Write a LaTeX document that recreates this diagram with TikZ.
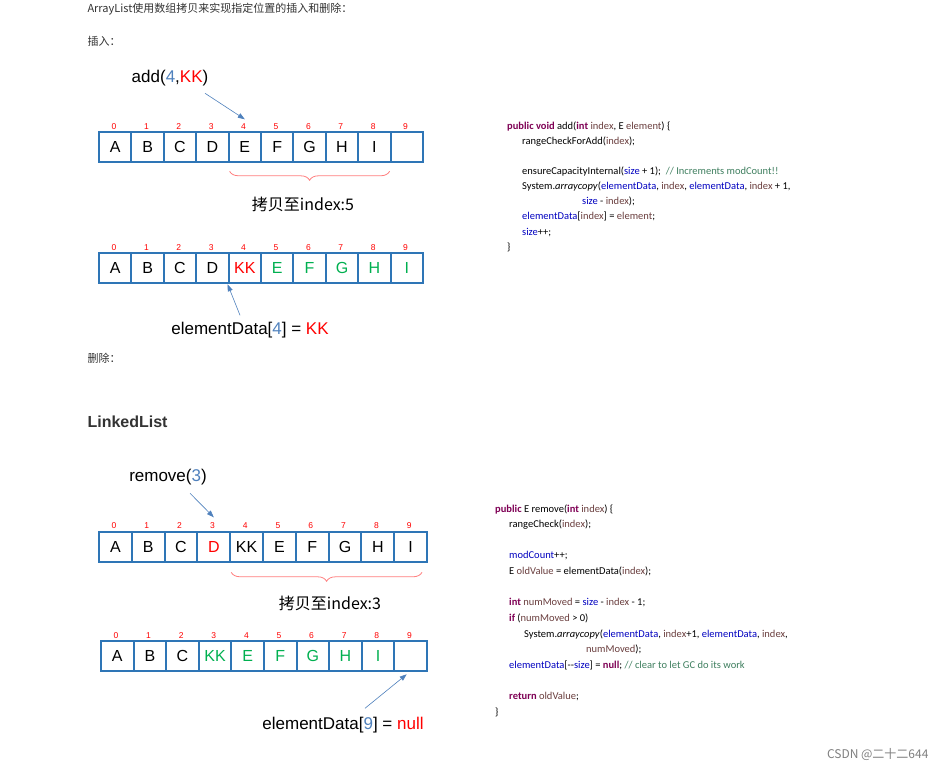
\documentclass[tikz,border=0pt]{standalone}
\usepackage{fontspec}
\setmainfont{Liberation Sans}
\newfontfamily\cjk{Noto Sans CJK SC}
\newfontfamily\codef{Carlito}
\usetikzlibrary{decorations.pathreplacing,arrows.meta,calc}
\definecolor{cellblue}{HTML}{2E75B6}
\definecolor{idxred}{HTML}{FF0000}
\definecolor{grn}{HTML}{00B050}
\definecolor{numblue}{HTML}{4F81BD}
\definecolor{kw}{HTML}{7F0055}
\definecolor{fld}{HTML}{0000C0}
\definecolor{cmt}{HTML}{3F7F5F}
\definecolor{var}{HTML}{6A3E3E}
\definecolor{txt}{HTML}{333333}
\definecolor{bracec}{HTML}{FF7F7F}
\newcommand{\K}[1]{\textcolor{kw}{\textbf{#1}}}
\newcommand{\F}[1]{\textcolor{fld}{#1}}
\newcommand{\V}[1]{\textcolor{var}{#1}}
\newcommand{\C}[1]{\textcolor{cmt}{#1}}
\begin{document}
\begin{tikzpicture}[x=1pt,y=-1pt,
  cell/.style={draw=cellblue,line width=2pt,minimum width=32.4pt,minimum height=30pt,inner sep=0pt,font=\fontsize{16}{16}\selectfont,anchor=west},
  idx/.style={text=idxred,font=\fontsize{8.5}{9}\selectfont},
  lbl/.style={font=\fontsize{17}{18}\selectfont,text=black},
  arr/.style={draw=numblue,line width=0.6pt,-{Triangle[length=7pt,width=5pt]}},
  brc/.style={draw=bracec,line width=0.8pt,decorate,decoration={brace,mirror,amplitude=9pt}},
  para/.style={font=\cjk\fontsize{11}{12}\selectfont,text=txt,anchor=west},
  code/.style={font=\codef\fontsize{10.5}{11}\selectfont,text=black,anchor=west,inner sep=0pt}]
\fill[white] (0,0) rectangle (947,773);

\node[para] (t1) at (84,8) {ArrayList使用数组拷贝来实现指定位置的插入和删除：};
\node[para] (t2) at (84,40) {插入：};
\node[para] (t3) at (84,357) {删除：};
\node[font=\bfseries\fontsize{16}{17}\selectfont,text=txt,anchor=west] (t4) at (84,420) {LinkedList};

% array 1
\foreach \l [count=\i from 0] in {A,B,C,D,E,F,G,H,I,{}} {
  \node[cell] (a\i) at (98+\i*32.4,146) {\l};
  \node[idx] at (114+\i*32.4,125) {\i};
}
\node[lbl] (add) at (170,77) {add(\textcolor{numblue}{4},\textcolor{idxred}{KK})};
\draw[arr] (205,92) -- ($(a4.north)+(0,-12)$);
\draw[brc] ($(a4.south west)+(2,8)$) -- ($(a8.south east)+(-2,8)$);
\node[lbl,font=\cjk\fontsize{16}{17}\selectfont] (c1) at (303,203) {拷贝至index:5};

% array 2
\foreach \l/\c [count=\i from 0] in {A/black,B/black,C/black,D/black,KK/idxred,E/grn,F/grn,G/grn,H/grn,I/grn} {
  \node[cell,text=\c] (b\i) at (98+\i*32.4,267) {\l};
  \node[idx] at (114+\i*32.4,246) {\i};
}
\node[lbl] (ed1) at (250,329) {elementData[\textcolor{numblue}{4}] = \textcolor{idxred}{KK}};
\draw[arr] (240,314) -- (b4.south west);

% array 3
\foreach \l/\c [count=\i from 0] in {A/black,B/black,C/black,D/idxred,KK/black,E/black,F/black,G/black,H/black,I/black} {
  \node[cell,text=\c,minimum width=32.8pt] (r\i) at (98+\i*32.8,546) {\l};
  \node[idx] at (114+\i*32.8,524) {\i};
}
\node[lbl] (rem) at (168,476) {remove(\textcolor{numblue}{3})};
\draw[arr] (190,492) -- ($(r3.north)+(0,-14)$);
\draw[brc] ($(r4.south west)+(2,9)$) -- ($(r9.south east)+(-6,9)$);
\node[lbl,font=\cjk\fontsize{16}{17}\selectfont] (c2) at (330,602) {拷贝至index:3};

% array 4
\foreach \l/\c [count=\i from 0] in {A/black,B/black,C/black,KK/grn,E/grn,F/grn,G/grn,H/grn,I/grn,{}/black} {
  \node[cell,text=\c,minimum width=32.6pt] (q\i) at (100+\i*32.6,655) {\l};
  \node[idx] at (116+\i*32.6,634) {\i};
}
\node[lbl] (ed2) at (343,724) {elementData[\textcolor{numblue}{9}] = \textcolor{idxred}{null}};
\draw[arr] (365,707) -- ($(q9.south)+(-4,2)$);

% code 1
\node[code] (k1) at (507,125) {\K{public void} add(\K{int} \V{index}, E \V{element}) \{};
\node[code] (k2) at (522,140) {rangeCheckForAdd(\V{index});};
\node[code] (k3) at (522,170) {ensureCapacityInternal(\F{size} + 1);\ \ \C{// Increments modCount!!}};
\node[code] (k4) at (522,185) {System.\textit{arraycopy}(\F{elementData}, \V{index}, \F{elementData}, \V{index} + 1,};
\node[code] (k5) at (582,200) {\F{size} - \V{index});};
\node[code] (k6) at (522,215) {\F{elementData}[\V{index}] = \V{element};};
\node[code] (k7) at (522,231) {\F{size}++;};
\node[code] (k8) at (507,246) {\}};

% code 2
\node[code] (m1) at (495,508) {\K{public} E remove(\K{int} \V{index}) \{};
\node[code] (m2) at (509,523) {rangeCheck(\V{index});};
\node[code] (m3) at (509,554) {\F{modCount}++;};
\node[code] (m4) at (509,570) {E \V{oldValue} = elementData(\V{index});};
\node[code] (m5) at (509,601) {\K{int} \V{numMoved} = \F{size} - \V{index} - 1;};
\node[code] (m6) at (509,617) {\K{if} (\V{numMoved} > 0)};
\node[code] (m7) at (524,633) {System.\textit{arraycopy}(\F{elementData}, \V{index}+1, \F{elementData}, \V{index},};
\node[code] (m8) at (586,648) {\V{numMoved});};
\node[code] (m9) at (509,664) {\F{elementData}[--\F{size}] = \K{null}; \C{// clear to let GC do its work}};
\node[code] (m10) at (509,695) {\K{return} \V{oldValue};};
\node[code] (m11) at (495,711) {\}};

\node[font=\cjk\fontsize{12}{13}\selectfont,text=gray,anchor=east] (wm) at (932,753) {CSDN @二十二644};
\end{tikzpicture}
\end{document}
